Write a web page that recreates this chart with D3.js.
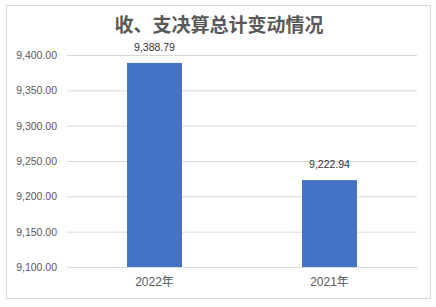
<!DOCTYPE html>
<html>
<head>
<meta charset="utf-8">
<script src="https://cdn.jsdelivr.net/npm/d3@7"></script>
<style>
  html, body { margin: 0; padding: 0; background: #fff; }
  svg { display: block; }
</style>
</head>
<body>
<svg id="chart" width="436" height="307"></svg>
<script>
// Chart data
const titleText = "收、支决算总计变动情况";
const categories = ["2022年", "2021年"];
const values = [9388.79, 9222.94];
const yTicks = [9100, 9150, 9200, 9250, 9300, 9350, 9400];

const svg = d3.select("#chart");
const plot = { left: 67, right: 417, top: 55, bottom: 267 };
const latin = "'Liberation Sans', 'Noto Sans CJK SC', sans-serif";

// Chart area frame
svg.append("rect")
  .attr("x", 6.5).attr("y", 5.5)
  .attr("width", 424).attr("height", 293)
  .attr("fill", "#fff").attr("stroke", "#d9d9d9").attr("stroke-width", 1);

// Title
svg.append("text")
  .attr("x", 219).attr("y", 32)
  .attr("text-anchor", "middle")
  .attr("font-family", "'Noto Sans CJK SC', sans-serif")
  .attr("font-size", 19)
  .attr("font-weight", "bold")
  .attr("fill", "#595959")
  .text(titleText);

const x = d3.scaleBand()
  .domain(categories)
  .range([plot.left, plot.right])
  .paddingInner(0.686)
  .paddingOuter(0.343);

const y = d3.scaleLinear()
  .domain([9100, 9400])
  .range([plot.bottom, plot.top]);

// Gridlines and value axis labels
const yAxis = d3.axisLeft(y)
  .tickValues(yTicks)
  .tickSize(-(plot.right - plot.left))
  .tickPadding(10)
  .tickFormat(d3.format(",.2f"));

const gy = svg.append("g")
  .attr("transform", `translate(${plot.left},0)`)
  .call(yAxis);
gy.select(".domain").remove();
gy.selectAll(".tick line").attr("stroke", "#d9d9d9").attr("stroke-width", 1);
gy.selectAll(".tick text")
  .attr("font-family", latin)
  .attr("font-size", 10.5)
  .attr("fill", "#595959");

// Bars
svg.append("g").selectAll("rect")
  .data(categories)
  .join("rect")
  .attr("x", d => x(d))
  .attr("width", x.bandwidth())
  .attr("y", (d, i) => y(values[i]))
  .attr("height", (d, i) => y(9100) - y(values[i]))
  .attr("fill", "#4472c4");

// Category axis
const xAxis = d3.axisBottom(x).tickSize(0).tickPadding(10);
const gx = svg.append("g")
  .attr("transform", `translate(0,${plot.bottom})`)
  .call(xAxis);
gx.select(".domain").attr("stroke", "#d9d9d9");
gx.selectAll(".tick text")
  .attr("font-family", latin)
  .attr("font-size", 12)
  .attr("fill", "#595959");

// Value labels
svg.append("g").selectAll("text")
  .data(categories)
  .join("text")
  .attr("x", d => x(d) + x.bandwidth() / 2)
  .attr("y", (d, i) => y(values[i]) - 12)
  .attr("text-anchor", "middle")
  .attr("font-family", latin)
  .attr("font-size", 10.5)
  .attr("fill", "#333333")
  .text((d, i) => d3.format(",.2f")(values[i]));
</script>
</body>
</html>
